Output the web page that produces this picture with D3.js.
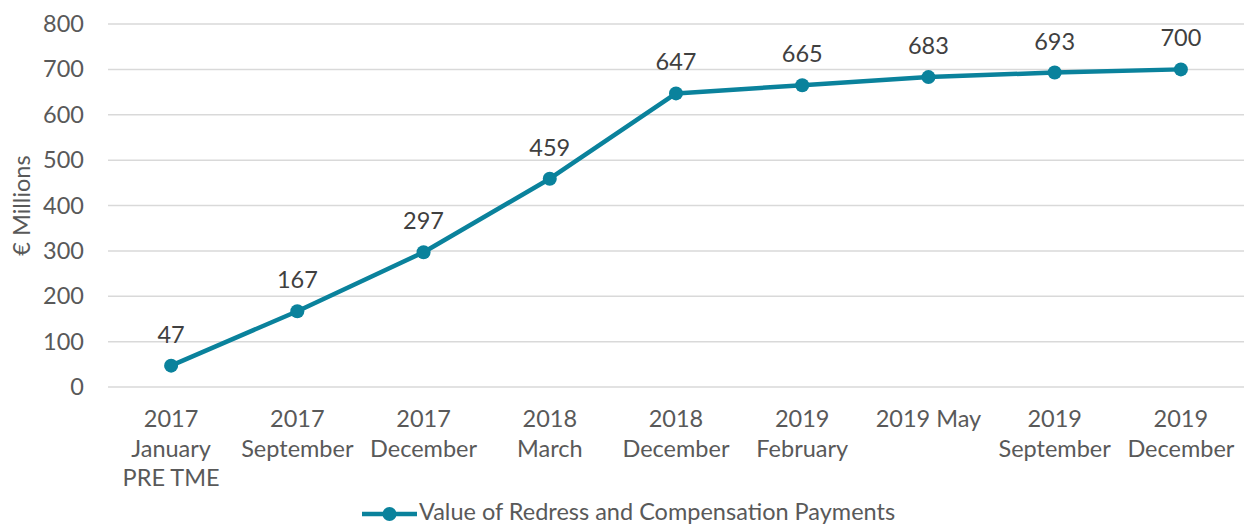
<!DOCTYPE html>
<html><head><meta charset="utf-8">
<script src="https://cdn.jsdelivr.net/npm/d3@7"></script>
<style>
html,body{margin:0;padding:0;background:#fff;}
svg{display:block;font-family:Lato,"Open Sans",sans-serif;font-weight:400;}
</style></head>
<body><svg id="c" width="1246" height="525"></svg>
<script>
const categories = [
  ["2017","January","PRE TME"],
  ["2017","September"],
  ["2017","December"],
  ["2018","March"],
  ["2018","December"],
  ["2019","February"],
  ["2019 May"],
  ["2019","September"],
  ["2019","December"]
];
const values = [47,167,297,459,647,665,683,693,700];
const yTicks = [0,100,200,300,400,500,600,700,800];
const seriesName = "Value of Redress and Compensation Payments";
const yTitle = "€ Millions";

const color = "#0a829c", textColor = "#595959", gridColor = "#d9d9d9";
const svg = d3.select("#c");
const pLeft = 108, pRight = 1244, pTop = 24, pBottom = 387;
const x = d3.scaleBand().domain(d3.range(categories.length)).range([pLeft,pRight]);
const y = d3.scaleLinear().domain([0,800]).range([pBottom,pTop]);
const fs = 23.5;

// grid
svg.append("g").selectAll("line").data(yTicks).join("line")
  .attr("x1",pLeft).attr("x2",pRight)
  .attr("y1",d=>y(d)).attr("y2",d=>y(d))
  .attr("stroke",gridColor).attr("stroke-width",1.5);

// y axis labels
const yAxis = d3.axisLeft(y).tickValues(yTicks).tickSize(0).tickPadding(0);
const ga = svg.append("g").attr("transform",`translate(${pLeft-24},0)`).call(yAxis);
ga.select(".domain").remove();
ga.selectAll("text").attr("font-size",fs).attr("fill",textColor)
  .attr("font-family","Lato").attr("font-weight",400);

// x labels
const xg = svg.append("g");
categories.forEach((c,i)=>{
  const t = xg.append("text").attr("text-anchor","middle").attr("fill",textColor)
    .attr("font-size",fs).attr("x",x(i)+x.bandwidth()/2);
  c.forEach((line,j)=>{
    t.append("tspan").attr("x",x(i)+x.bandwidth()/2).attr("y",427+j*29.5).text(line);
  });
});

// y title
svg.append("text").attr("transform",`translate(30,${(pTop+pBottom)/2}) rotate(-90)`)
  .attr("text-anchor","middle").attr("fill",textColor).attr("font-size",fs).text(yTitle);

const cx = i=>x(i)+x.bandwidth()/2;
const line = d3.line().x((d,i)=>cx(i)).y(d=>y(d));
svg.append("path").datum(values).attr("d",line).attr("fill","none")
  .attr("stroke",color).attr("stroke-width",4.5).attr("stroke-linejoin","round");
svg.append("g").selectAll("circle").data(values).join("circle")
  .attr("cx",(d,i)=>cx(i)).attr("cy",d=>y(d)).attr("r",7).attr("fill",color);

// data labels
svg.append("g").selectAll("text").data(values).join("text")
  .attr("x",(d,i)=>cx(i)).attr("y",d=>y(d)-23).attr("text-anchor","middle")
  .attr("fill","#404040").attr("font-size",fs).text(d=>d);

// legend
const lg = svg.append("g");
lg.append("line").attr("x1",362).attr("x2",417).attr("y1",514).attr("y2",514)
  .attr("stroke",color).attr("stroke-width",4.5);
lg.append("circle").attr("cx",389.5).attr("cy",514).attr("r",7).attr("fill",color);
lg.append("text").attr("x",419).attr("y",520).attr("fill",textColor).attr("font-size",fs).text(seriesName);
</script></body></html>
